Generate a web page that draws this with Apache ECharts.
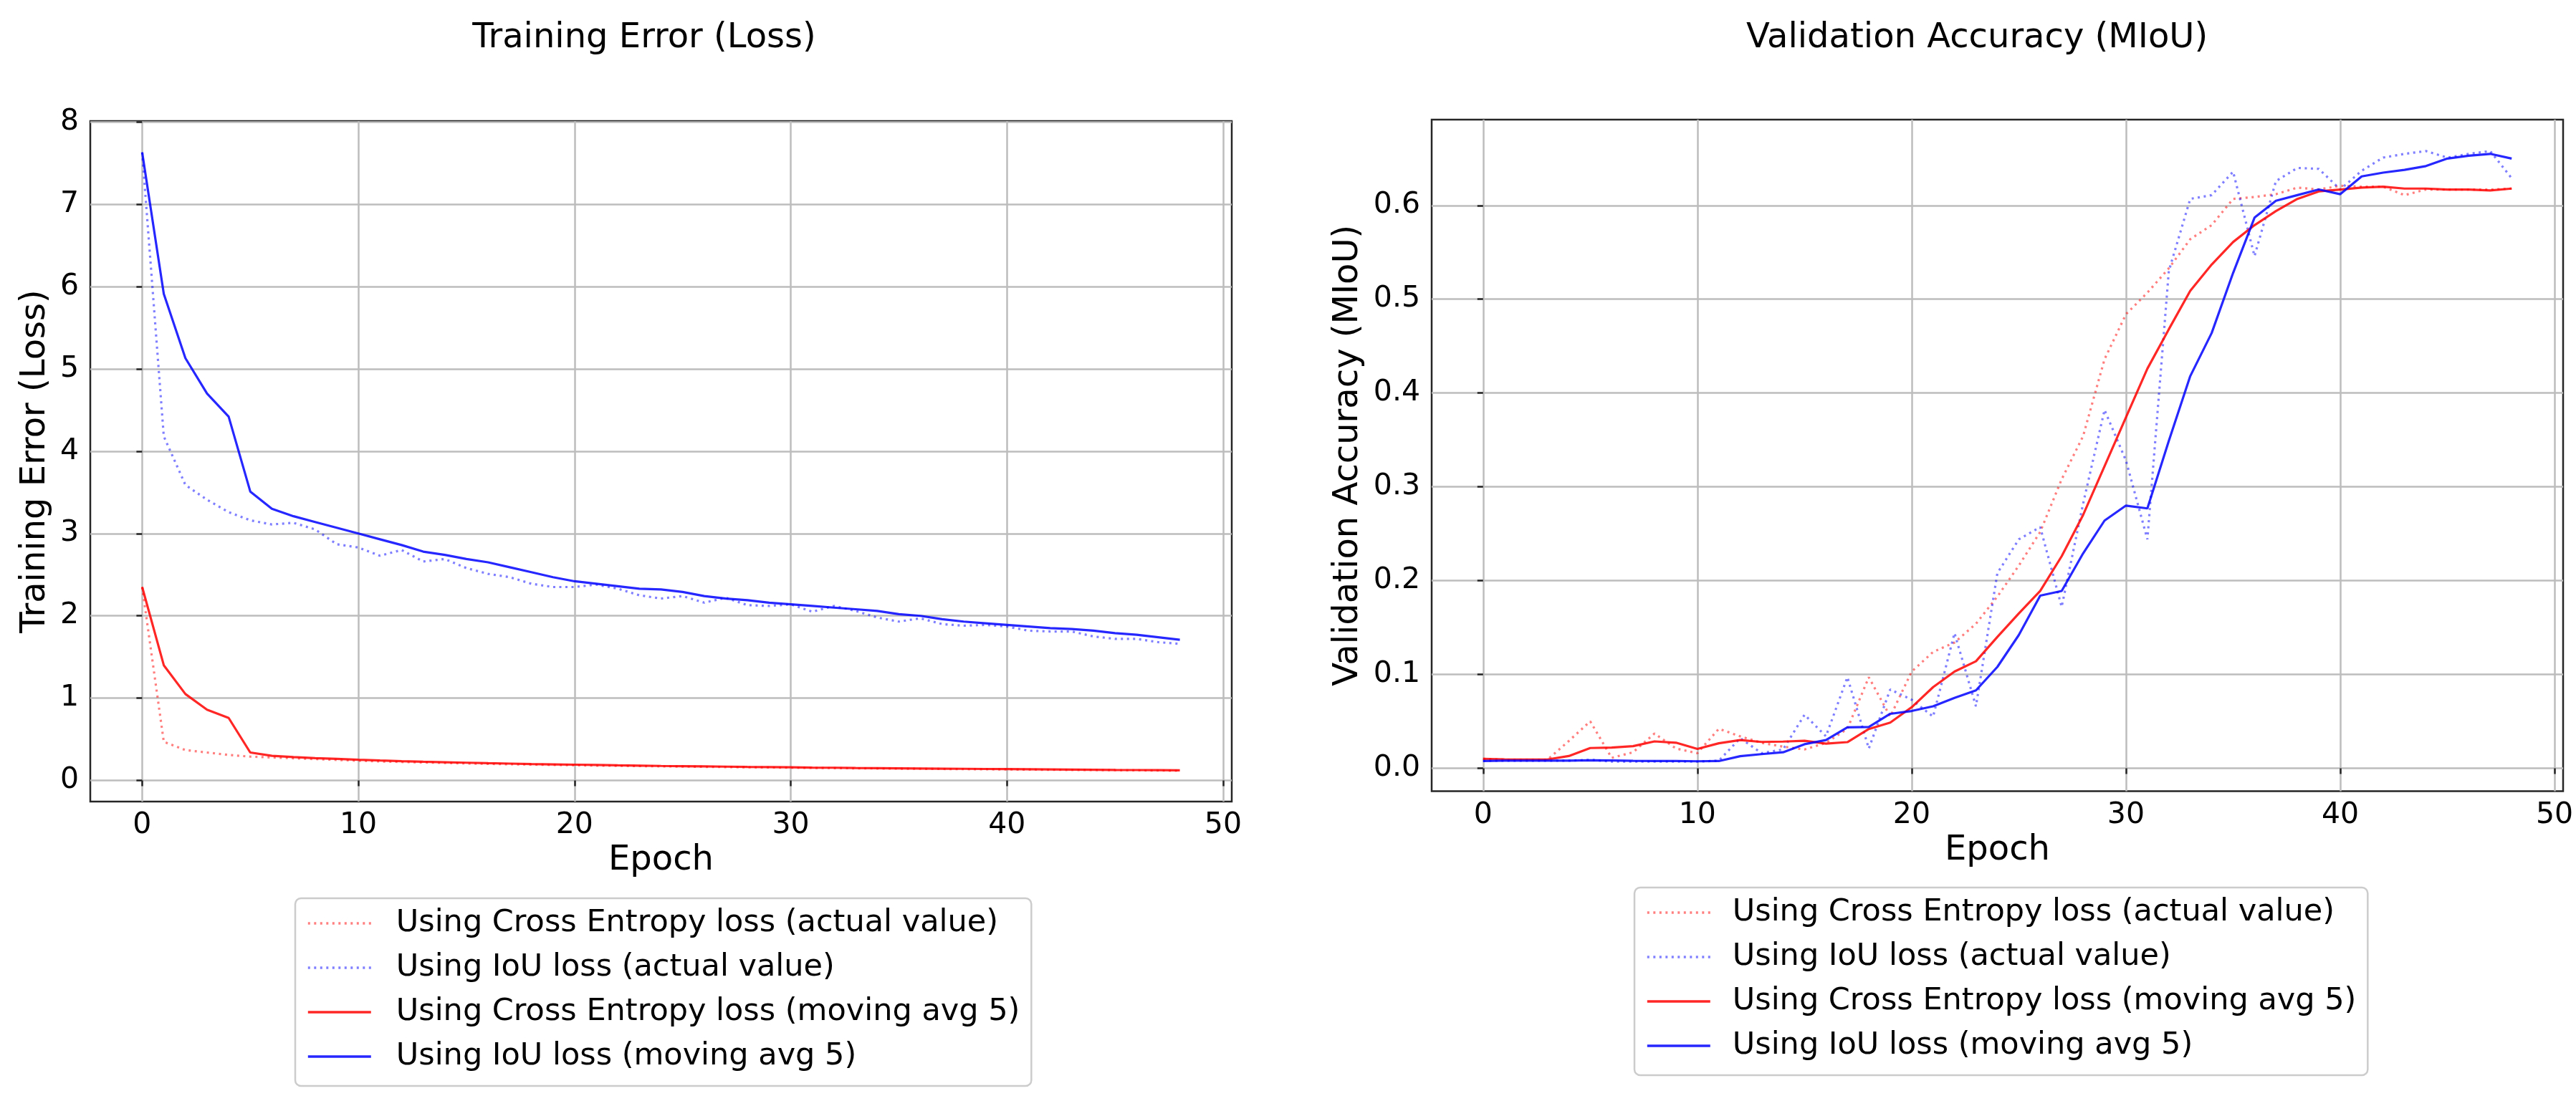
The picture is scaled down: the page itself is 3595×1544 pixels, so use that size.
<!DOCTYPE html>
<html lang="en">
<head>
  <meta charset="UTF-8">
  <title>Training Error / Validation Accuracy</title>
  <style>
    html, body { margin: 0; padding: 0; background: #fff; }
    #main { width: 3595px; height: 1544px; }
  </style>
</head>
<body>
  <div id="main"></div>

  <script src="https://cdn.jsdelivr.net/npm/echarts@6.0.0/dist/echarts.min.js"></script>
  <script type="text/javascript">

    // epochs on the x axis
    var epochs = [0, 1, 2, 3, 4, 5, 6, 7, 8, 9, 10, 11, 12, 13, 14, 15, 16, 17, 18, 19, 20, 21, 22, 23, 24,
                  25, 26, 27, 28, 29, 30, 31, 32, 33, 34, 35, 36, 37, 38, 39, 40, 41, 42, 43, 44, 45, 46, 47, 48];

    var xTicks = [0, 10, 20, 30, 40, 50];
    var lossTicks = [0, 1, 2, 3, 4, 5, 6, 7, 8];
    var miouTicks = [0, 0.1, 0.2, 0.3, 0.4, 0.5, 0.6];

    var legendNames = [
      'Using Cross Entropy loss (actual value)',
      'Using IoU loss (actual value)',
      'Using Cross Entropy loss (moving avg 5)',
      'Using IoU loss (moving avg 5)'
    ];

    // training error (loss)
    var lossCeActual = [2.35, 0.47, 0.37, 0.34, 0.31, 0.29, 0.28, 0.27, 0.26, 0.25, 0.24, 0.232, 0.225, 0.219, 0.213,
                        0.207, 0.202, 0.197, 0.193, 0.189, 0.185, 0.181, 0.178, 0.175, 0.172, 0.169, 0.166, 0.163,
                        0.160, 0.158, 0.155, 0.153, 0.150, 0.148, 0.146, 0.144, 0.142, 0.140, 0.138, 0.136, 0.134,
                        0.132, 0.130, 0.128, 0.127, 0.125, 0.123, 0.121, 0.119];
    var lossIouActual = [7.63, 4.18, 3.59, 3.41, 3.26, 3.16, 3.11, 3.13, 3.05, 2.87, 2.83, 2.73, 2.80, 2.66, 2.69,
                         2.58, 2.51, 2.47, 2.39, 2.35, 2.35, 2.38, 2.33, 2.25, 2.21, 2.24, 2.16, 2.22, 2.13, 2.12,
                         2.14, 2.05, 2.12, 2.06, 1.98, 1.93, 1.97, 1.90, 1.88, 1.89, 1.87, 1.82, 1.81, 1.81, 1.75,
                         1.72, 1.72, 1.68, 1.66];
    var lossCeAvg = [2.35, 1.40, 1.05, 0.86, 0.76, 0.34, 0.30, 0.285, 0.272, 0.262, 0.252, 0.243, 0.235, 0.228, 0.222,
                     0.216, 0.210, 0.205, 0.200, 0.196, 0.192, 0.188, 0.184, 0.181, 0.177, 0.174, 0.171, 0.168, 0.165,
                     0.163, 0.160, 0.157, 0.155, 0.152, 0.150, 0.148, 0.146, 0.144, 0.142, 0.140, 0.138, 0.136, 0.134,
                     0.132, 0.130, 0.128, 0.127, 0.125, 0.123];
    var lossIouAvg = [7.63, 5.91, 5.13, 4.70, 4.42, 3.51, 3.30, 3.21, 3.14, 3.07, 3.00, 2.93, 2.86, 2.78, 2.74, 2.69,
                      2.65, 2.59, 2.53, 2.47, 2.42, 2.39, 2.36, 2.33, 2.32, 2.29, 2.24, 2.21, 2.19, 2.16, 2.14, 2.12,
                      2.10, 2.08, 2.06, 2.02, 2.00, 1.96, 1.93, 1.91, 1.89, 1.87, 1.85, 1.84, 1.82, 1.79, 1.77, 1.74,
                      1.71];

    // validation accuracy (MIoU)
    var miouCeActual = [0.010, 0.009, 0.009, 0.009, 0.029, 0.050, 0.011, 0.017, 0.037, 0.021, 0.016, 0.042, 0.034,
                        0.027, 0.023, 0.020, 0.027, 0.042, 0.097, 0.055, 0.103, 0.124, 0.134, 0.154, 0.183, 0.216,
                        0.252, 0.308, 0.354, 0.436, 0.484, 0.507, 0.533, 0.564, 0.579, 0.607, 0.609, 0.612, 0.619,
                        0.617, 0.621, 0.620, 0.620, 0.611, 0.617, 0.617, 0.617, 0.617, 0.618];
    var miouIouActual = [0.008, 0.008, 0.008, 0.008, 0.008, 0.009, 0.007, 0.007, 0.007, 0.007, 0.007, 0.008, 0.032,
                         0.016, 0.020, 0.057, 0.034, 0.097, 0.021, 0.084, 0.073, 0.055, 0.144, 0.066, 0.208, 0.244,
                         0.257, 0.172, 0.282, 0.382, 0.328, 0.244, 0.530, 0.607, 0.611, 0.636, 0.546, 0.626, 0.640,
                         0.639, 0.617, 0.637, 0.651, 0.655, 0.658, 0.651, 0.655, 0.658, 0.629];
    var miouCeAvg = [0.010, 0.0095, 0.0093, 0.0093, 0.013, 0.0215, 0.022, 0.0235, 0.0286, 0.0272, 0.0205, 0.0266,
                     0.030, 0.028, 0.0284, 0.0292, 0.0262, 0.0278, 0.0418, 0.0486, 0.065, 0.0864, 0.103, 0.114, 0.140,
                     0.165, 0.189, 0.226, 0.270, 0.322, 0.374, 0.426, 0.468, 0.509, 0.537, 0.561, 0.579, 0.594, 0.607,
                     0.615, 0.617, 0.619, 0.620, 0.618, 0.618, 0.617, 0.617, 0.616, 0.618];
    var miouIouAvg = [0.0077, 0.008, 0.008, 0.008, 0.008, 0.0085, 0.0083, 0.0078, 0.0077, 0.0076, 0.0074, 0.0076,
                      0.0128, 0.015, 0.017, 0.0256, 0.030, 0.0435, 0.044, 0.058, 0.061, 0.066, 0.075, 0.083, 0.108,
                      0.142, 0.184, 0.189, 0.229, 0.264, 0.280, 0.277, 0.349, 0.418, 0.464, 0.528, 0.587, 0.605, 0.611,
                      0.617, 0.612, 0.631, 0.635, 0.638, 0.642, 0.650, 0.653, 0.655, 0.650];

    var RED = '#ff0000';
    var BLUE = '#0000ff';
    var FRAME = '#262626';
    var GRIDLINE = '#bdbdbd';

    function pairs(values) {
      return values.map(function (v, i) { return [epochs[i], v]; });
    }

    function lineSeries(name, values, color, dotted, gridIdx) {
      return {
        name: name,
        type: 'line',
        xAxisIndex: gridIdx,
        yAxisIndex: gridIdx,
        data: pairs(values),
        symbol: 'none',
        silent: true,
        lineStyle: {
          color: color,
          width: 3.2,
          opacity: dotted ? 0.5 : 0.85,
          type: dotted ? [3, 5.5] : 'solid',
          cap: 'butt'
        },
        itemStyle: { color: color }
      };
    }

    function xAxisOf(gridIdx) {
      return {
        gridIndex: gridIdx,
        type: 'value',
        min: -2.4,
        max: 50.4,
        name: 'Epoch',
        nameLocation: 'middle',
        nameGap: 53,
        nameTextStyle: { fontSize: 48, color: '#000' },
        axisLine: { show: false },
        axisTick: { length: 8, lineStyle: { color: FRAME, width: 2.5 }, customValues: xTicks },
        axisLabel: { fontSize: 41, color: '#000', margin: 13, customValues: xTicks },
        splitLine: { show: true, lineStyle: { color: GRIDLINE, width: 2.5 } }
      };
    }

    function yAxisOf(gridIdx, name, min, max, ticks, nameGap, digits) {
      return {
        gridIndex: gridIdx,
        type: 'value',
        min: min,
        max: max,
        name: name,
        nameLocation: 'middle',
        nameGap: nameGap,
        nameTextStyle: { fontSize: 48, color: '#000' },
        axisLine: { show: false },
        axisTick: { length: 8, lineStyle: { color: FRAME, width: 2.5 }, customValues: ticks },
        axisLabel: {
          fontSize: 41, color: '#000', margin: 16, customValues: ticks,
          formatter: function (v) { return v.toFixed(digits); }
        },
        splitLine: { show: true, lineStyle: { color: GRIDLINE, width: 2.5 } }
      };
    }

    function legendOf(left, top, textPad) {
      return {
        orient: 'vertical',
        left: left,
        top: top,
        data: legendNames,
        selectedMode: false,
        itemWidth: 88,
        itemHeight: 14,
        itemGap: 12,
        padding: [10, 16, 16, 16],
        backgroundColor: '#ffffff',
        borderColor: '#cccccc',
        borderWidth: 2.5,
        borderRadius: 8,
        // hide the marker dot, keep only the line sample
        itemStyle: { opacity: 0 },
        lineStyle: { width: 3.6 },
        textStyle: { fontSize: 43, lineHeight: 50, color: '#000', padding: [0, 0, 0, textPad] }
      };
    }

    var myChart = echarts.init(document.getElementById('main'));

    var option = {
      animation: false,
      backgroundColor: '#ffffff',
      textStyle: { fontFamily: 'DejaVu Sans' },
      title: [
        { text: 'Training Error (Loss)', left: 899, top: 30, textAlign: 'center', padding: 0,
          textStyle: { fontSize: 48, fontWeight: 'normal', color: '#000' } },
        { text: 'Validation Accuracy (MIoU)', left: 2759, top: 30, textAlign: 'center', padding: 0,
          textStyle: { fontSize: 48, fontWeight: 'normal', color: '#000' } }
      ],
      grid: [
        { left: 126, top: 169, width: 1593, height: 950, show: true, borderColor: FRAME, borderWidth: 2.5,
          backgroundColor: 'transparent' },
        { left: 1998, top: 167, width: 1579, height: 937.5, show: true, borderColor: FRAME, borderWidth: 2.5,
          backgroundColor: 'transparent' }
      ],
      xAxis: [xAxisOf(0), xAxisOf(1)],
      yAxis: [
        yAxisOf(0, 'Training Error (Loss)', -0.256, 8.01, lossTicks, 52, 0),
        yAxisOf(1, 'Validation Accuracy (MIoU)', -0.0245, 0.6915, miouTicks, 92, 1)
      ],
      legend: [legendOf(412, 1254, 30), legendOf(2281, 1239, 26)],
      series: [
        lineSeries(legendNames[0], lossCeActual, RED, true, 0),
        lineSeries(legendNames[1], lossIouActual, BLUE, true, 0),
        lineSeries(legendNames[2], lossCeAvg, RED, false, 0),
        lineSeries(legendNames[3], lossIouAvg, BLUE, false, 0),
        lineSeries(legendNames[0], miouCeActual, RED, true, 1),
        lineSeries(legendNames[1], miouIouActual, BLUE, true, 1),
        lineSeries(legendNames[2], miouCeAvg, RED, false, 1),
        lineSeries(legendNames[3], miouIouAvg, BLUE, false, 1)
      ]
    };

    myChart.setOption(option);
  </script>
</body>
</html>
